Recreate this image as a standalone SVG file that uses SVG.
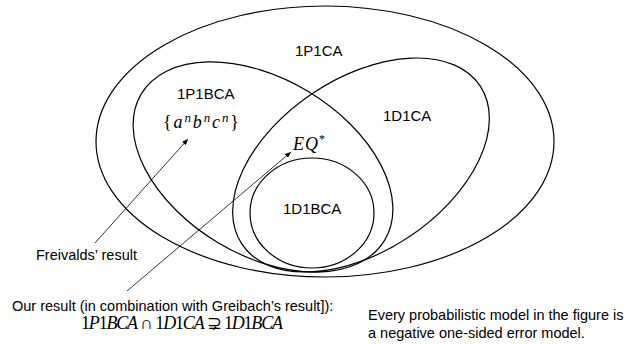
<svg xmlns="http://www.w3.org/2000/svg" width="626" height="344" viewBox="0 0 626 344">
<style>
.shape{fill:none;stroke:#000;stroke-width:1.2}
.lbl{font-family:"Liberation Sans",Arial,sans-serif;font-size:15px;fill:#000}
.txt{font-family:"Liberation Sans",Arial,sans-serif;font-size:14.5px;fill:#000}
.math{font-family:"Liberation Serif","Times New Roman",serif;font-size:18px;fill:#000}
.it{font-style:italic}
.conn{stroke:#000;stroke-width:0.8;fill:none}
</style>
<defs>
<marker id="ah" markerUnits="userSpaceOnUse" markerWidth="6" markerHeight="5" refX="6" refY="2.5" orient="auto">
<path d="M0,0 L6,2.5 L0,5 z" fill="#000"/>
</marker>
</defs>
<rect width="626" height="344" fill="#fff"/>
<g id="n-1P1CA">
<ellipse class="shape" cx="325" cy="141.5" rx="229" ry="135.5"/>
<text class="lbl" x="295" y="56">1P1CA</text>
</g>
<g id="n-1P1BCA">
<ellipse class="shape" cx="0" cy="0" rx="142" ry="88" transform="translate(263,167) rotate(31)"/>
<text class="lbl" x="177" y="99">1P1BCA</text>
<text class="math" x="163" y="128" textLength="76" lengthAdjust="spacing">{<tspan class="it">a</tspan><tspan class="it" font-size="13" dy="-6">n</tspan><tspan class="it" dy="6">b</tspan><tspan class="it" font-size="13" dy="-6">n</tspan><tspan class="it" dy="6">c</tspan><tspan class="it" font-size="13" dy="-6">n</tspan><tspan dy="6">}</tspan></text>
</g>
<g id="n-1D1CA">
<ellipse class="shape" cx="0" cy="0" rx="143" ry="86.5" transform="translate(361,165) rotate(-33.6)"/>
<text class="lbl" x="383" y="121">1D1CA</text>
<text class="math it" x="293" y="150" textLength="32" lengthAdjust="spacing">EQ<tspan font-size="12" dy="-7" font-style="normal">*</tspan></text>
</g>
<g id="n-1D1BCA">
<ellipse class="shape" cx="312" cy="213" rx="62" ry="55"/>
<text class="lbl" x="283" y="214">1D1BCA</text>
</g>
<g id="connectors">
<line class="conn" x1="95" y1="243" x2="188" y2="139" marker-end="url(#ah)"/>
<line class="conn" x1="127" y1="291" x2="291" y2="152" marker-end="url(#ah)"/>
</g>
<g id="notes">
<text class="txt" x="36" y="260">Freivalds’ result</text>
<text class="txt" x="12" y="311">Our result (in combination with Greibach’s result]):</text>
<text class="math" x="81" y="329" font-size="17" textLength="202" lengthAdjust="spacing">1<tspan class="it">P</tspan>1<tspan class="it">BCA</tspan> ∩ 1<tspan class="it">D</tspan>1<tspan class="it">CA</tspan> ⊋ 1<tspan class="it">D</tspan>1<tspan class="it">BCA</tspan></text>
<text class="txt" x="368" y="320">Every probabilistic model in the figure is</text>
<text class="txt" x="368" y="338">a negative one-sided error model.</text>
</g>
</svg>
